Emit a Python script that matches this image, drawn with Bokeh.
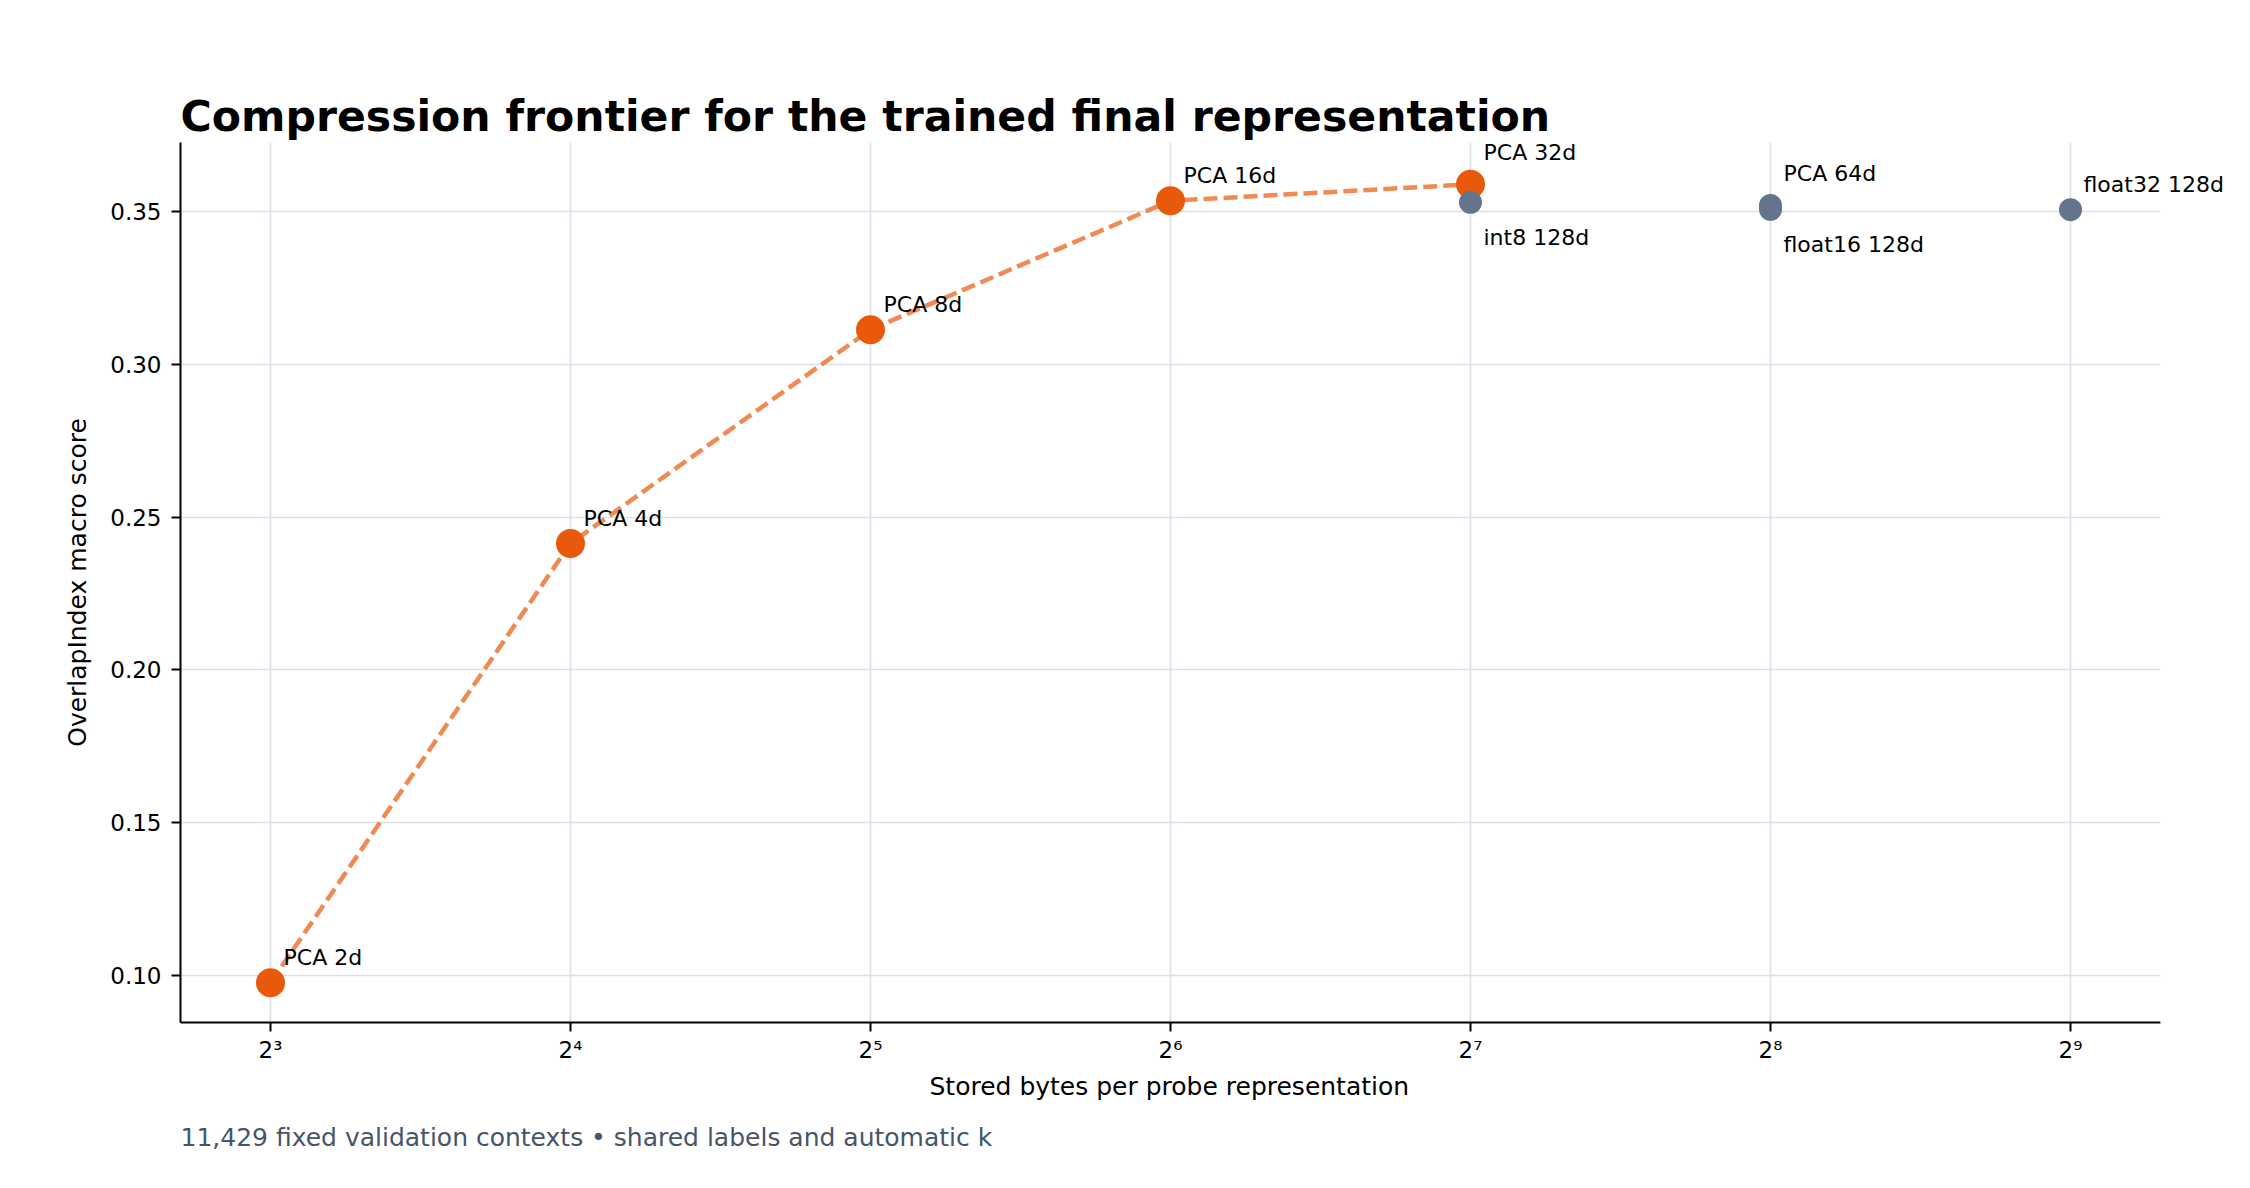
from bokeh.plotting import figure
from bokeh.models import (ColumnDataSource, FixedTicker, PrintfTickFormatter, Range1d,
                          Title, Label, BoxAnnotation)
from bokeh.embed import file_html
from bokeh.resources import INLINE

# ---- data ----
labels = ["PCA 2d", "PCA 4d", "PCA 8d", "PCA 16d", "PCA 32d",
          "PCA 64d", "int8 128d", "float16 128d", "float32 128d"]
stored_bytes = [8, 16, 32, 64, 128, 256, 128, 256, 512]
scores = [0.0975, 0.2414, 0.3114, 0.3536, 0.3590, 0.3521, 0.3531, 0.3508, 0.3507]
on_frontier = [True, True, True, True, True, False, False, False, False]

x_ticks = [8, 16, 32, 64, 128, 256, 512]
x_tick_labels = ["2³", "2⁴", "2⁵", "2⁶", "2⁷", "2⁸", "2⁹"]
y_ticks = [0.10, 0.15, 0.20, 0.25, 0.30, 0.35]

title_text = "Compression frontier for the trained final representation"
x_label = "Stored bytes per probe representation"
y_label = "OverlapIndex macro score"
caption = "11,429 fixed validation contexts • shared labels and automatic k"

# ---- layout / label placement (style) ----
X_LO, X_HI = 2 ** 2.7, 2 ** 9.3          # visible axis extent
FIG_W, FIG_H = 2234, 1172
LEFT, AXIS_W = 180, 1980                  # frame left, axis length in px
XLABEL_OFFSET = 749                       # left edge of centred x-axis title (px from frame left)
default_dy = 25
label_dy = {"PCA 32d": 32, "PCA 64d": 32, "int8 128d": -35, "float16 128d": -35}

FONT = "DejaVu Sans"
ORANGE = "#e8590c"
SLATE = "#64748b"

# extend the frame to the right so outer labels are not clipped
frame_w = FIG_W - LEFT
x_end = 2 ** (2.7 + 6.6 * frame_w / AXIS_W)

front = ColumnDataSource(dict(
    x=[b for b, f in zip(stored_bytes, on_frontier) if f],
    y=[s for s, f in zip(scores, on_frontier) if f],
))
other = ColumnDataSource(dict(
    x=[b for b, f in zip(stored_bytes, on_frontier) if not f],
    y=[s for s, f in zip(scores, on_frontier) if not f],
))

p = figure(width=FIG_W, height=FIG_H, x_axis_type="log",
           x_range=Range1d(X_LO, x_end), y_range=Range1d(0.0845, 0.3727),
           output_backend="svg", toolbar_location=None,
           min_border_left=LEFT, min_border_right=0,
           min_border_top=142, min_border_bottom=150)

p.outline_line_color = None
p.background_fill_color = "white"
p.border_fill_color = "white"

# title
p.title.text = title_text
p.title.text_font = FONT
p.title.text_font_size = "42.6px"
p.title.text_font_style = "bold"
p.title.text_color = "black"
p.title.align = "left"
p.title.standoff = 4

# x-axis title (centred under the visible axis) and caption
xt = Title(text=x_label, align="left", offset=XLABEL_OFFSET, text_font=FONT,
           text_font_size="25px", text_font_style="normal", text_color="black", standoff=8)
p.add_layout(xt, "below")
cap = Title(text=caption, align="left", text_font=FONT, text_font_size="25px",
            text_font_style="normal", text_color="#475569", standoff=32)
p.add_layout(cap, "below")

# grid
for g in (p.xgrid, p.ygrid):
    g.grid_line_color = "#d9e0ea"
    g.grid_line_width = 1.6
p.xgrid.ticker = FixedTicker(ticks=x_ticks)
p.ygrid.ticker = FixedTicker(ticks=y_ticks)

# axes
for ax in (p.xaxis, p.yaxis):
    ax.axis_line_color = "black"
    ax.axis_line_width = 2
    ax.major_tick_line_color = "black"
    ax.major_tick_line_width = 2
    ax.major_tick_out = 9
    ax.major_tick_in = 0
    ax.minor_tick_line_color = None
    ax.major_label_text_font = FONT
    ax.major_label_text_font_size = "23px"
    ax.major_label_text_color = "black"
    ax.axis_label_text_font = FONT
    ax.axis_label_text_font_size = "25px"
    ax.axis_label_text_font_style = "normal"
    ax.axis_label_text_color = "black"

p.xaxis.ticker = FixedTicker(ticks=x_ticks)
p.xaxis.major_label_overrides = {t: l for t, l in zip(x_ticks, x_tick_labels)}
p.xaxis.major_label_standoff = 5
p.xaxis.bounds = (X_LO, X_HI)

p.yaxis.ticker = FixedTicker(ticks=y_ticks)
p.yaxis.formatter = PrintfTickFormatter(format="%.2f")
p.yaxis.axis_label = y_label
p.yaxis.major_label_standoff = 10
p.yaxis.axis_label_standoff = 15

# marks
p.line("x", "y", source=front, line_color=ORANGE, line_alpha=0.7,
       line_width=4.5, line_dash="14 6")
p.scatter("x", "y", source=front, size=29, fill_color=ORANGE, line_color=None)
p.scatter("x", "y", source=other, size=23, fill_color=SLATE, line_color=None)

# blank out the grid beyond the axis end (the margin area)
p.add_layout(BoxAnnotation(left=X_HI, fill_color="white", fill_alpha=1.0,
                           line_color=None))

for xv, yv, t in zip(stored_bytes, scores, labels):
    p.add_layout(Label(x=xv, y=yv, text=t, x_offset=13, y_offset=label_dy.get(t, default_dy),
                       text_font=FONT, text_font_size="22px", text_color="black",
                       text_align="left", text_baseline="alphabetic"))

open("out.html", "w").write(file_html(p, INLINE))
